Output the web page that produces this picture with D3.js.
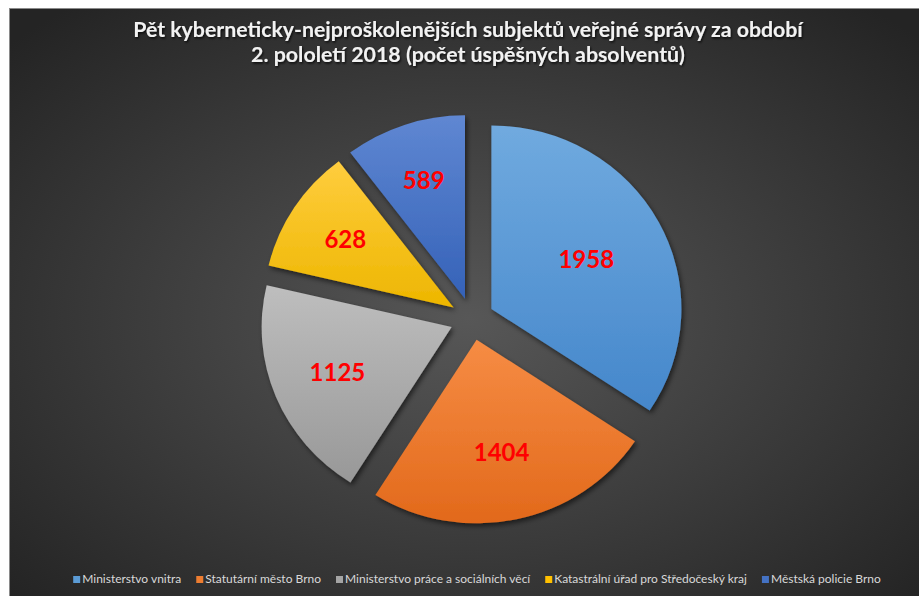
<!DOCTYPE html>
<html>
<head>
<meta charset="utf-8">
<script src="https://cdn.jsdelivr.net/npm/d3@7"></script>
<style>
  html, body { margin: 0; padding: 0; background: #fff; }
  svg { display: block; }
</style>
</head>
<body>
<div id="chart"></div>
<script>
// data
const categories = ["Ministerstvo vnitra", "Statutární město Brno", "Ministerstvo práce a sociálních věcí", "Katastrální úřad pro Středočeský kraj", "Městská policie Brno"];
const values = [1958, 1404, 1125, 628, 589];
const colors = ["#5B9BD5", "#ED7D31", "#A5A5A5", "#FFC000", "#4472C4"];
const gradTop = ["#70aadf", "#f68c44", "#bebebe", "#ffcd3e", "#5f87d2"];
const gradBottom = ["#4587cb", "#e2691b", "#989898", "#edb600", "#3562b8"];
const titleLines = ["Pět kyberneticky-nejproškolenějších subjektů veřejné správy za období", "2. pololetí 2018 (počet úspěšných absolventů)"];

const width = 919, height = 596;

const svg = d3.select('#chart').append('svg')
    .attr('width', width)
    .attr('height', height);

const defs = svg.append('defs');

// background gradient
let bg = defs.append('radialGradient')
    .attr('id', 'bg')
    .attr('cx', '50%').attr('cy', '52%').attr('r', '68%');
bg.append('stop').attr('offset', '0%').attr('stop-color', '#575757');
bg.append('stop').attr('offset', '100%').attr('stop-color', '#242424');

// slice gradients
values.forEach((v, i) => {
    let g = defs.append('linearGradient')
        .attr('id', 'slice' + i)
        .attr('x1', 0).attr('y1', 0).attr('x2', 0).attr('y2', 1);
    g.append('stop').attr('offset', '0%').attr('stop-color', gradTop[i]);
    g.append('stop').attr('offset', '100%').attr('stop-color', gradBottom[i]);
});

let shadow = defs.append('filter').attr('id', 'shadow')
    .attr('x', '-20%').attr('y', '-20%').attr('width', '140%').attr('height', '140%');
shadow.append('feDropShadow')
    .attr('dx', 2).attr('dy', 3).attr('stdDeviation', 2.5)
    .attr('flood-color', '#000').attr('flood-opacity', 0.55);

let textShadow = defs.append('filter').attr('id', 'tshadow');
textShadow.append('feDropShadow')
    .attr('dx', 1).attr('dy', 1.5).attr('stdDeviation', 1)
    .attr('flood-color', '#000').attr('flood-opacity', 0.8);

// chart area
svg.append('rect')
    .attr('x', 9.5).attr('y', 8.5)
    .attr('width', width).attr('height', height)
    .attr('fill', 'url(#bg)')
    .attr('stroke', '#8a8a8a')
    .attr('stroke-width', 1);

// title
let title = svg.append('g').attr('filter', 'url(#tshadow)');
const titleWidths = [670, 434];
titleLines.forEach((line, i) => {
    let t = title.append('text')
        .attr('x', 468)
        .attr('y', 37 + i * 25)
        .attr('text-anchor', 'middle')
        .attr('fill', '#f2f2f2')
        .style('font-family', 'Lato, "Open Sans", sans-serif')
        .style('font-weight', 'bold')
        .style('font-size', '18px')
        .text(line);
    let w = t.node().getComputedTextLength();
    t.style('font-size', (18 * titleWidths[i] / w) + 'px');
});

// pie
const cx = 472, cy = 319, radius = 190, explode = 22, squash = 0.966;

const pie = d3.pie().sort(null).value(d => d);
const arcs = pie(values);
const arc = d3.arc().innerRadius(0).outerRadius(radius);

const offset = d => {
    let a = (d.startAngle + d.endAngle) / 2;
    return [Math.sin(a) * explode, -Math.cos(a) * explode];
};

let pieGroup = svg.append('g')
    .attr('transform', `translate(${cx}, ${cy}) scale(1, ${squash})`);

pieGroup.selectAll('path')
    .data(arcs)
    .join('path')
    .attr('d', arc)
    .attr('transform', d => `translate(${offset(d)})`)
    .attr('fill', (d, i) => `url(#slice${i})`)
    .attr('filter', 'url(#shadow)');

// labels sit near the area centroid of each sector
const labelPos = d => {
    let theta = d.endAngle - d.startAngle;
    let a = (d.startAngle + d.endAngle) / 2;
    let dist = 1.04 * 4 * radius * Math.sin(theta / 2) / (3 * theta);
    let o = offset(d);
    return [Math.sin(a) * dist + o[0], (-Math.cos(a) * dist + o[1]) * squash];
};

svg.append('g')
    .attr('transform', `translate(${cx}, ${cy})`)
    .selectAll('text')
    .data(arcs)
    .join('text')
    .attr('transform', d => `translate(${labelPos(d)})`)
    .attr('text-anchor', 'middle')
    .attr('dy', '0.36em')
    .attr('fill', '#ff0000')
    .style('font-family', 'Lato, "Open Sans", sans-serif')
    .style('font-weight', 'bold')
    .style('font-size', '24px')
    .text(d => d.data);

// legend
let legend = svg.append('g').attr('transform', 'translate(0, 583)');
let items = legend.selectAll('g')
    .data(categories)
    .join('g');

items.append('rect')
    .attr('width', 7).attr('height', 7)
    .attr('y', -7)
    .attr('fill', (d, i) => colors[i]);

items.append('text')
    .attr('x', 9)
    .attr('fill', '#d9d9d9')
    .style('font-family', 'Lato, "Open Sans", sans-serif')
    .style('font-size', '12px')
    .text(d => d);

let xPos = 0;
let positions = [];
items.each(function() {
    let w = d3.select(this).select('text').node().getComputedTextLength();
    positions.push(xPos);
    xPos += 9 + w + 15;
});
let total = xPos - 15;
let startX = 477 - total / 2;
items.attr('transform', (d, i) => `translate(${startX + positions[i]}, 0)`);
</script>
</body>
</html>
